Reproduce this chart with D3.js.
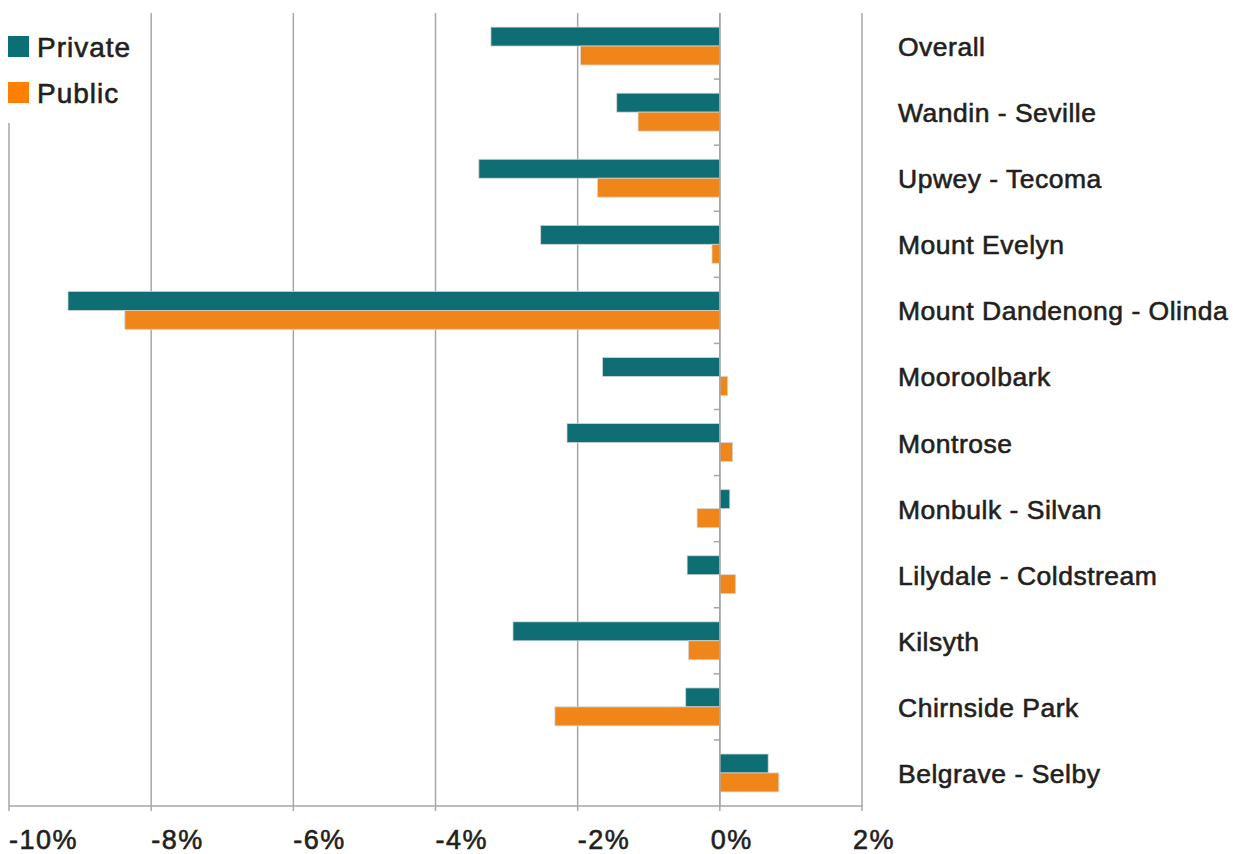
<!DOCTYPE html>
<html>
<head>
    <title>Private vs Public change</title>
    <script src="https://d3js.org/d3.v7.min.js"></script>
    <style>
        body { margin: 0; background: #fff; }
        text { font-family: "Liberation Sans", Arial, sans-serif; fill: #231f20; stroke: #231f20; stroke-width: 0.6px; }
        .grid line { stroke: #a6a6a6; stroke-width: 1.5px; }
        .bar { stroke: #d4d4d4; stroke-width: 0.75px; }
    </style>
</head>
<body>
    <script>
        var categories = ["Overall", "Wandin - Seville", "Upwey - Tecoma", "Mount Evelyn",
            "Mount Dandenong - Olinda", "Mooroolbark", "Montrose", "Monbulk - Silvan",
            "Lilydale - Coldstream", "Kilsyth", "Chirnside Park", "Belgrave - Selby"];
        var seriesNames = ["Private", "Public"];
        var privateValues = [-3.22, -1.45, -3.39, -2.52, -9.17, -1.65, -2.15, 0.14, -0.46, -2.91, -0.48, 0.68];
        var publicValues = [-1.96, -1.15, -1.72, -0.11, -8.37, 0.11, 0.18, -0.32, 0.22, -0.44, -2.32, 0.83];
        var tickValues = [-10, -8, -6, -4, -2, 0, 2];

        var barColors = ["#0f6e74", "#f0861a"];
        var legendColors = ["#0b7076", "#ff8000"];

        var width = 1233, height = 854;
        var svg = d3.select("body").append("svg")
            .attr("width", width)
            .attr("height", height);

        var x = d3.scaleLinear().domain([-10, 2]).range([9, 862]);
        var y = d3.scaleBand().domain(categories).range([13, 806])
            .paddingInner(0.427).paddingOuter(0.2135);
        var sub = d3.scaleBand().domain(seriesNames).range([0, y.bandwidth()]);

        // vertical gridlines
        svg.append("g").attr("class", "grid")
            .selectAll("line")
            .data(tickValues)
            .enter().append("line")
            .attr("x1", d => x(d)).attr("x2", d => x(d))
            .attr("y1", d => d === -10 ? 123 : 13)
            .attr("y2", 811);

        // bottom axis line
        svg.append("line")
            .attr("x1", x(-10)).attr("x2", x(2))
            .attr("y1", 806).attr("y2", 806)
            .attr("stroke", "#a6a6a6").attr("stroke-width", 1.5);

        var rows = categories.map((c, i) => ({ cat: c, vals: [privateValues[i], publicValues[i]] }));

        var group = svg.selectAll(".row")
            .data(rows)
            .enter().append("g")
            .attr("class", "row")
            .attr("transform", d => `translate(0,${y(d.cat)})`);

        group.selectAll("rect")
            .data(d => d.vals.map((v, j) => ({ v: v, s: seriesNames[j], j: j })))
            .enter().append("rect")
            .attr("class", "bar")
            .attr("x", d => x(Math.min(0, d.v)))
            .attr("width", d => Math.abs(x(d.v) - x(0)))
            .attr("y", d => sub(d.s))
            .attr("height", sub.bandwidth())
            .attr("fill", d => barColors[d.j]);

        // zero axis with category ticks
        svg.append("line")
            .attr("x1", x(0)).attr("x2", x(0))
            .attr("y1", 13).attr("y2", 806)
            .attr("stroke", "#a6a6a6").attr("stroke-width", 1.5);

        svg.append("g").selectAll("line")
            .data(categories.slice(1))
            .enter().append("line")
            .attr("x1", x(0) - 6).attr("x2", x(0))
            .attr("y1", d => y(d) - y.step() * y.paddingInner() / 2)
            .attr("y2", d => y(d) - y.step() * y.paddingInner() / 2)
            .attr("stroke", "#a6a6a6").attr("stroke-width", 1.5);

        // category labels
        svg.append("g").selectAll("text")
            .data(categories)
            .enter().append("text")
            .attr("x", 898)
            .attr("y", d => y(d) + y.bandwidth() / 2 + 10)
            .style("font-size", "26.5px")
            .style("letter-spacing", "0.5px")
            .text(d => d);

        // x tick labels
        svg.append("g").selectAll("text")
            .data(tickValues)
            .enter().append("text")
            .attr("x", d => x(d) + (d < 0 ? 0 : -9))
            .attr("y", 849)
            .style("font-size", "27px")
            .style("letter-spacing", "1.5px")
            .text(d => d + "%");

        // legend
        var legend = svg.append("g").selectAll("g")
            .data(seriesNames)
            .enter().append("g")
            .attr("transform", (d, i) => `translate(8,${36 + i * 46})`);

        legend.append("rect")
            .attr("width", 21).attr("height", 21)
            .attr("fill", (d, i) => legendColors[i]);

        legend.append("text")
            .attr("x", 29)
            .attr("y", 20.5)
            .style("font-size", "28px")
            .style("letter-spacing", "1px")
            .text(d => d);
    </script>
</body>
</html>
